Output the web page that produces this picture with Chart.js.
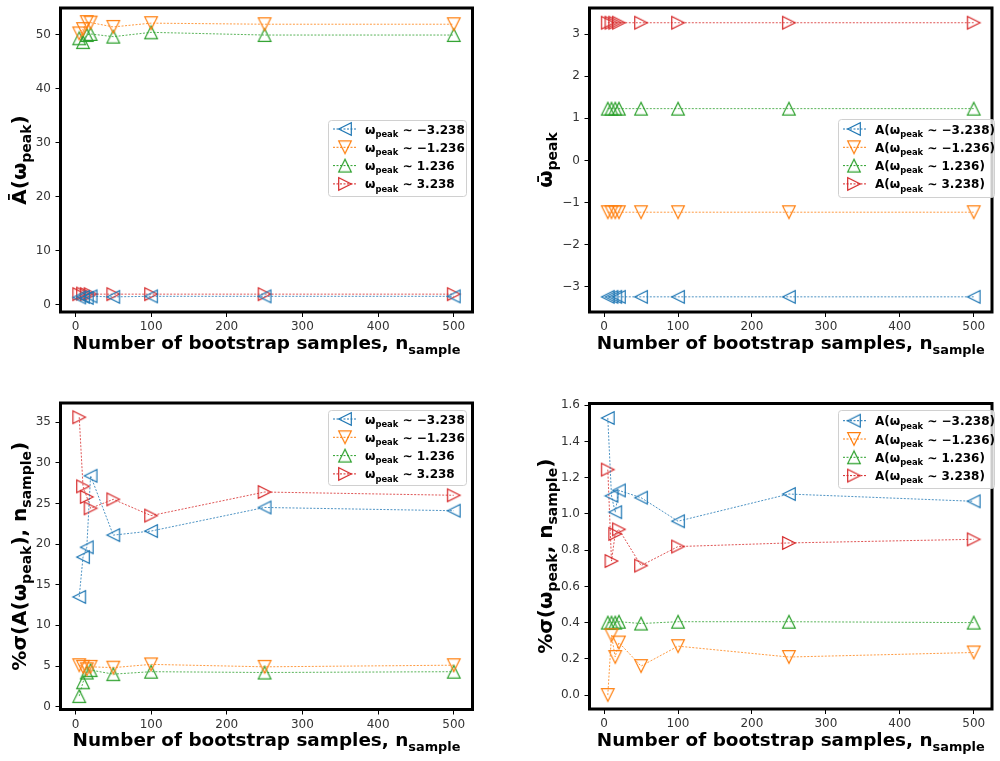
<!DOCTYPE html>
<html lang="en">
<head>
<meta charset="UTF-8">
<title>Bootstrap convergence of peak amplitudes and positions</title>
<script src="https://cdn.jsdelivr.net/npm/chart.js"></script>
<style>
    body {
        margin: 0;
        width: 1000px;
        height: 761px;
        overflow: hidden;
        position: relative;
        background: #fff;
        font-family: 'DejaVu Sans', sans-serif;
    }
    .panel { position: absolute; }
    canvas { display: block; }
</style>
</head>
<body>
<div class="panel" style="left:0;top:0"><canvas id="cAmp" width="500" height="390"></canvas></div>
<div class="panel" style="left:500px;top:0"><canvas id="cOmega" width="500" height="390"></canvas></div>
<div class="panel" style="left:0;top:390px"><canvas id="cSigAmp" width="500" height="371"></canvas></div>
<div class="panel" style="left:500px;top:390px"><canvas id="cSigOmega" width="500" height="371"></canvas></div>

<script>
// number of bootstrap samples used for each estimate
const nSample = [5, 10, 15, 20, 50, 100, 250, 500];

// mean amplitude A(w_peak) for each of the four peaks
const ampPeak1 = [1.4, 1.5, 1.3, 1.6, 1.5, 1.6, 1.6, 1.6];
const ampPeak2 = [50.2, 51.0, 52.3, 52.2, 51.4, 52.1, 51.9, 51.9];
const ampPeak3 = [49.3, 48.6, 49.9, 50.1, 49.6, 50.4, 49.9, 49.9];
const ampPeak4 = [2.0, 2.1, 2.0, 2.0, 2.0, 2.0, 2.0, 2.0];

// mean peak position w_peak
const omegaPeak1 = [-3.24, -3.24, -3.24, -3.24, -3.24, -3.24, -3.24, -3.24];
const omegaPeak2 = [-1.23, -1.23, -1.23, -1.23, -1.23, -1.23, -1.23, -1.23];
const omegaPeak3 = [1.23, 1.23, 1.23, 1.23, 1.23, 1.23, 1.23, 1.23];
const omegaPeak4 = [3.27, 3.27, 3.27, 3.27, 3.27, 3.27, 3.27, 3.27];

// relative spread (%) of the amplitude
const sigAmpPeak1 = [13.5, 18.4, 19.6, 28.4, 21.1, 21.6, 24.5, 24.1];
const sigAmpPeak2 = [5.1, 4.9, 4.6, 4.9, 4.8, 5.2, 4.9, 5.1];
const sigAmpPeak3 = [1.3, 3.0, 4.2, 4.5, 4.0, 4.3, 4.2, 4.3];
const sigAmpPeak4 = [35.6, 27.1, 25.8, 24.4, 25.5, 23.5, 26.4, 26.0];

// relative spread (%) of the peak position
const sigOmegaPeak1 = [1.53, 1.10, 1.01, 1.13, 1.09, 0.96, 1.11, 1.07];
const sigOmegaPeak2 = [0.0, 0.33, 0.21, 0.29, 0.16, 0.27, 0.21, 0.235];
const sigOmegaPeak3 = [0.40, 0.40, 0.40, 0.405, 0.395, 0.405, 0.405, 0.40];
const sigOmegaPeak4 = [1.245, 0.74, 0.89, 0.915, 0.715, 0.82, 0.84, 0.86];

// tick labels
const xTicks = [0, 100, 200, 300, 400, 500];
const ampTicks = [0, 10, 20, 30, 40, 50];
const omegaTicks = [-3, -2, -1, 0, 1, 2, 3];
const sigAmpTicks = [0, 5, 10, 15, 20, 25, 30, 35];
const sigOmegaTicks = [0, 0.2, 0.4, 0.6, 0.8, 1.0, 1.2, 1.4, 1.6];

// peak names for the legends
const peakNames = ['−3.238', '−1.236', '1.236', '3.238'];

const colors = ['#1f77b4', '#ff7f0e', '#2ca02c', '#d62728'];
const shapes = ['left', 'down', 'up', 'right'];
const FONT = "'DejaVu Sans', sans-serif";

// open triangle markers, drawn once per colour
function makeMarker(shape, color) {
    const c = document.createElement('canvas');
    c.width = 16; c.height = 16;
    const g = c.getContext('2d');
    const r = 6.3, m = 8;
    g.strokeStyle = color;
    g.lineWidth = 1.2;
    g.beginPath();
    if (shape === 'left') { g.moveTo(m - r, m); g.lineTo(m + r, m - r); g.lineTo(m + r, m + r); }
    if (shape === 'right') { g.moveTo(m + r, m); g.lineTo(m - r, m - r); g.lineTo(m - r, m + r); }
    if (shape === 'up') { g.moveTo(m, m - r); g.lineTo(m - r, m + r); g.lineTo(m + r, m + r); }
    if (shape === 'down') { g.moveTo(m, m + r); g.lineTo(m - r, m - r); g.lineTo(m + r, m - r); }
    g.closePath();
    g.stroke();
    return c;
}
const markers = shapes.map((s, i) => makeMarker(s, colors[i]));

// text with subscripts: segs = [[text, isSub], ...]
function drawRich(ctx, segs, x, y, size, rotate, align) {
    const sub = size * 0.7;
    const fontOf = s => 'bold ' + (s ? sub : size) + 'px ' + FONT;
    let total = 0;
    segs.forEach(([t, s]) => { ctx.font = fontOf(s); total += ctx.measureText(t).width; });
    ctx.save();
    ctx.translate(x, y);
    if (rotate) ctx.rotate(-Math.PI / 2);
    ctx.textBaseline = 'alphabetic';
    ctx.textAlign = 'left';
    let cx = align === 'left' ? 0 : -total / 2;
    segs.forEach(([t, s]) => {
        ctx.font = fontOf(s);
        ctx.fillText(t, cx, s ? size * 0.28 : 0);
        cx += ctx.measureText(t).width;
    });
    ctx.restore();
}

const xTitle = [['Number of bootstrap samples, n', 0], ['sample', 1]];

// frame, axis titles and legend
function decor(cfg) {
    return {
        id: 'decor',
        afterDraw(chart) {
            const ctx = chart.ctx, a = chart.chartArea;
            ctx.save();
            ctx.strokeStyle = '#000';
            ctx.lineWidth = 3;
            ctx.strokeRect(a.left, a.top, a.right - a.left, a.bottom - a.top);

            ctx.fillStyle = '#000';
            drawRich(ctx, xTitle, (a.left + a.right) / 2, a.bottom + 36.5, 18.4, false);
            drawRich(ctx, cfg.yTitle, a.left - cfg.yGap, (a.top + a.bottom) / 2, 20, true);

            const L = cfg.legend;
            ctx.beginPath();
            ctx.roundRect(L.x + 0.5, L.y + 0.5, L.w, L.h, 3);
            ctx.fillStyle = 'rgba(255,255,255,0.8)';
            ctx.fill();
            ctx.strokeStyle = '#d0d0d0';
            ctx.lineWidth = 1;
            ctx.stroke();
            for (let i = 0; i < 4; i++) {
                const ry = L.y + L.first + i * 18.3;
                ctx.save();
                ctx.strokeStyle = colors[i];
                ctx.lineWidth = 1;
                ctx.setLineDash([2, 1.5]);
                ctx.beginPath();
                ctx.moveTo(L.x + 5, ry);
                ctx.lineTo(L.x + 29, ry);
                ctx.stroke();
                ctx.restore();
                ctx.drawImage(markers[i], L.x + L.mx - 8, ry - 8);
                ctx.fillStyle = '#000';
                drawRich(ctx, cfg.labels[i], L.x + 37, ry + 4.5, 12, false, 'left');
            }
            ctx.restore();
        }
    };
}

function datasets(series) {
    return series.map((vals, i) => ({
        label: peakNames[i],
        data: nSample.map((n, j) => ({ x: n, y: vals[j] })),
        borderColor: colors[i] + 'c8',
        borderWidth: 1,
        borderDash: [2, 1.5],
        pointStyle: markers[i],
        pointRadius: 7,
        fill: false,
        tension: 0
    }));
}

function tickGrid() {
    return { display: true, drawOnChartArea: false, drawTicks: true, tickLength: 5, color: '#000', lineWidth: 1 };
}

function xScale(height) {
    return {
        type: 'linear', min: -19.75, max: 524.75,
        afterBuildTicks: s => { s.ticks = xTicks.map(v => ({ value: v })); },
        afterFit: s => { s.height = height; s.paddingLeft = 0; s.paddingRight = 0; },
        grid: tickGrid(),
        border: { display: false },
        ticks: { font: { family: FONT, size: 12 }, color: '#333', padding: 3, maxRotation: 0, autoSkip: false }
    };
}

function yScale(min, max, ticks, width, fmt) {
    return {
        type: 'linear', min: min, max: max,
        afterBuildTicks: s => { s.ticks = ticks.map(v => ({ value: v })); },
        afterFit: s => { s.width = width; s.paddingTop = 0; s.paddingBottom = 0; },
        grid: tickGrid(),
        border: { display: false },
        ticks: { font: { family: FONT, size: 12 }, color: '#333', padding: 4.5, autoSkip: false, callback: fmt }
    };
}

const minusFmt = v => (v < 0 ? '−' + Math.abs(v) : String(v));

function makeChart(id, series, y, pad, xHeight, cfg) {
    return new Chart(document.getElementById(id), {
        type: 'line',
        data: { datasets: datasets(series) },
        options: {
            responsive: false,
            animation: false,
            layout: { padding: pad },
            plugins: { legend: { display: false }, tooltip: { enabled: false } },
            scales: { x: xScale(xHeight), y: y }
        },
        plugins: [decor(cfg)]
    });
}

const omegaLabels = peakNames.map(p => [['ω', 0], ['peak', 1], [' ∼ ' + p, 0]]);
const ampLabels = peakNames.map(p => [['A(ω', 0], ['peak', 1], [' ∼ ' + p + ')', 0]]);

makeChart('cAmp', [ampPeak1, ampPeak2, ampPeak3, ampPeak4],
    yScale(-1.3, 54.9, ampTicks, 60.5, minusFmt),
    { left: 0, right: 27.5, top: 4.7, bottom: 0 }, 78,
    { yTitle: [['Ā(ω', 0], ['peak', 1], [')', 0]], yGap: 35,
      legend: { x: 328, y: 120, w: 138, h: 76, first: 9, mx: 17 }, labels: omegaLabels });

makeChart('cOmega', [omegaPeak1, omegaPeak2, omegaPeak3, omegaPeak4],
    yScale(-3.6, 3.62, omegaTicks, 89.5, minusFmt),
    { left: 0, right: 1, top: 4.7, bottom: 0 }, 78,
    { yTitle: [['ω̄', 0], ['peak', 1]], yGap: 38,
      legend: { x: 338, y: 119, w: 156, h: 78, first: 10, mx: 16 }, labels: ampLabels });

makeChart('cSigAmp', [sigAmpPeak1, sigAmpPeak2, sigAmpPeak3, sigAmpPeak4],
    yScale(-0.35, 37.35, sigAmpTicks, 60.5, minusFmt),
    { left: 0, right: 27.5, top: 13, bottom: 0 }, 51.5,
    { yTitle: [['%σ(A(ω', 0], ['peak', 1], ['), n', 0], ['sample', 1], [')', 0]], yGap: 35,
      legend: { x: 328, y: 20, w: 138, h: 75, first: 9, mx: 17 }, labels: omegaLabels });

makeChart('cSigOmega', [sigOmegaPeak1, sigOmegaPeak2, sigOmegaPeak3, sigOmegaPeak4],
    yScale(-0.077, 1.61, sigOmegaTicks, 89.5, v => v.toFixed(1)),
    { left: 0, right: 1, top: 13.5, bottom: 0 }, 52,
    { yTitle: [['%σ(ω', 0], ['peak', 1], [', n', 0], ['sample', 1], [')', 0]], yGap: 38,
      legend: { x: 338, y: 20, w: 156, h: 78, first: 10.7, mx: 16 }, labels: ampLabels });
</script>
</body>
</html>
